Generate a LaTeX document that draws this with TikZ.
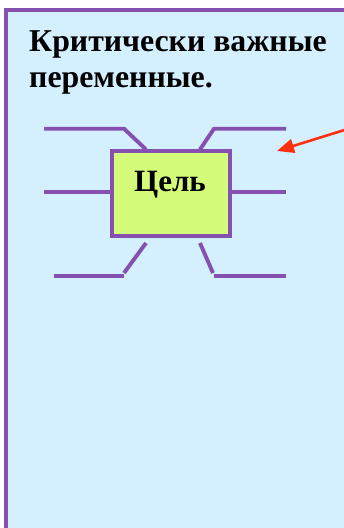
\documentclass[tikz,border=0pt]{standalone}
\usepackage{fontspec}
\setmainfont{Liberation Serif}
\usetikzlibrary{arrows.meta}
\definecolor{panelblue}{HTML}{D4F0FF}
\definecolor{goalgreen}{HTML}{D5FB7A}
\definecolor{linepurple}{HTML}{8650B0}
\definecolor{arrowred}{HTML}{FF3010}
\tikzset{
  purple line/.style={draw=linepurple,line width=3.9pt},
  title text/.style={font=\bfseries\fontsize{31.8}{36}\selectfont,anchor=base west,inner sep=0pt},
  goal box/.style={purple line,fill=goalgreen,minimum width=118pt,minimum height=85pt,inner sep=0pt,rectangle},
  goal text/.style={font=\bfseries\fontsize{31}{34}\selectfont,inner sep=0pt,anchor=base},
  red arrow/.style={draw=arrowred,line width=2.6pt,-{Triangle[length=17pt,width=14pt]}}
}
\begin{document}
\begin{tikzpicture}[x=1pt,y=-1pt]
\useasboundingbox (0,0) rectangle (344,528);
\begin{scope}
\clip (0,0) rectangle (344,528);
\draw[draw=linepurple,line width=4pt,fill=panelblue] (6,540) -- (6,9.5) -- (360,9.5) -- (360,540) -- cycle;
\end{scope}
\node[title text] (title) at (29,51.5) {Критически важные};
\node[title text] (titletwo) at (29,87) {переменные.};
\node[goal box] (goal) at (171,193.5) {};
\node[goal text] (goaltext) at (170,191.7) {Цель};
% branch coordinates
\coordinate (tlA) at (44,128.7);
\coordinate (tlB) at (124,128.7);
\coordinate (tlC) at (146,149.5);
\coordinate (trA) at (286,128.7);
\coordinate (trB) at (214,128.7);
\coordinate (trC) at (200,149.5);
\coordinate (mlA) at (44,192);
\coordinate (mlB) at (110,192);
\coordinate (mrA) at (286,192);
\coordinate (mrB) at (232,192);
\coordinate (blA) at (54,276.3);
\coordinate (blB) at (124,276.3);
\coordinate (blC) at (124,273);
\coordinate (blD) at (146,243);
\coordinate (brA) at (286,276.3);
\coordinate (brB) at (214,276.3);
\coordinate (brC) at (213,273);
\coordinate (brD) at (200,243);
\draw[purple line] (tlA) -- (tlB) -- (tlC);
\draw[purple line] (trA) -- (trB) -- (trC);
\draw[purple line] (mlA) -- (mlB);
\draw[purple line] (mrA) -- (mrB);
\draw[purple line] (blA) -- (blB);
\draw[purple line] (blC) -- (blD);
\draw[purple line] (brA) -- (brB);
\draw[purple line] (brC) -- (brD);
\coordinate (arrowstart) at (346,129.5);
\coordinate (arrowend) at (277,151);
\begin{scope}
\clip (0,0) rectangle (344,528);
\draw[red arrow] (arrowstart) -- (arrowend);
\end{scope}
\end{tikzpicture}
\end{document}
